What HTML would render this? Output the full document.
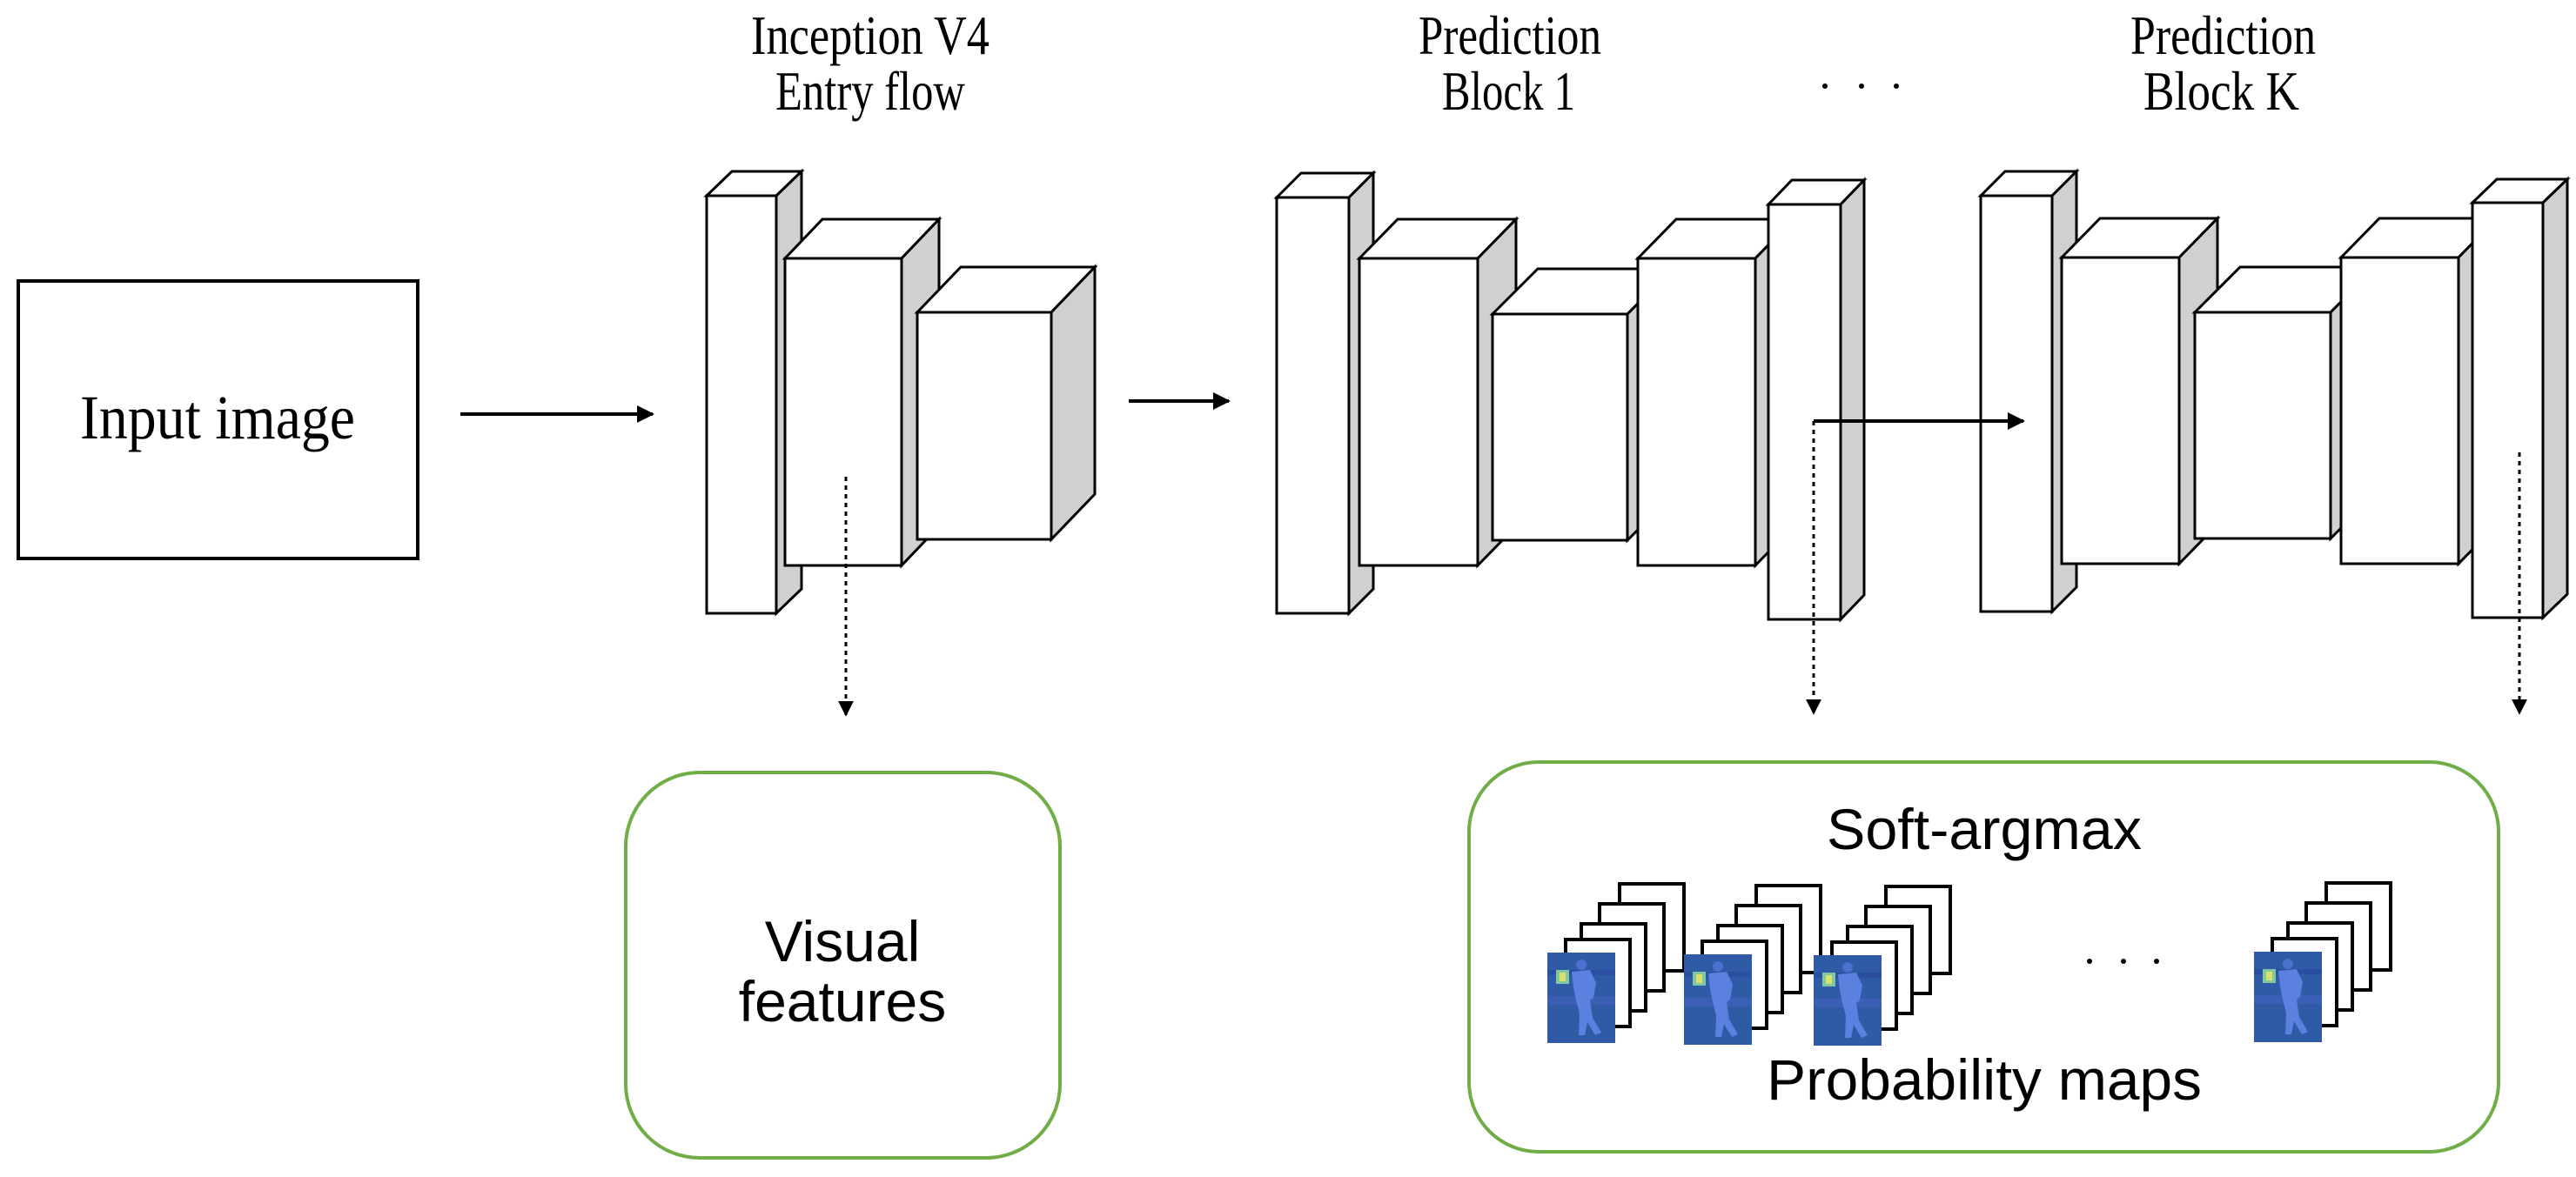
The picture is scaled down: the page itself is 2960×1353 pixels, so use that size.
<!DOCTYPE html>
<html><head><meta charset="utf-8"><style>html,body{margin:0;padding:0;background:#fff}svg{display:block}</style></head>
<body>
<svg width="2960" height="1353" viewBox="0 0 2960 1353" xmlns="http://www.w3.org/2000/svg">
<defs>
<marker id="ah" viewBox="0 0 10 10" refX="9" refY="5" markerWidth="5" markerHeight="5" orient="auto" markerUnits="strokeWidth"><path d="M0,0 L10,5 L0,10 z" fill="#000"/></marker>
<marker id="ah2" viewBox="0 0 10 10" refX="9" refY="5" markerWidth="6" markerHeight="6" orient="auto" markerUnits="strokeWidth"><path d="M0,0 L10,5 L0,10 z" fill="#000"/></marker>
<g id="blueimg">
<rect x="0" y="0" width="78" height="104" fill="#2f5aa6"/>
<rect x="0" y="20" width="78" height="6" fill="#2a4fa0"/>
<rect x="0" y="50" width="78" height="10" fill="#3a5fb5"/>
<circle cx="39" cy="14" r="6" fill="#4a70d0"/>
<path d="M28,22 L49,20 L56,35 L53,52 L49,55 L52,75 L62,92 L55,95 L46,80 L43,95 L36,95 L37,70 L33,55 L30,40 z" fill="#5a80e0"/>
<rect x="10" y="20" width="15" height="16" fill="#7fc8a0"/>
<rect x="14" y="23" width="7" height="10" fill="#d8e070"/>
</g>
<g id="frames">
<rect x="83" y="-79" width="74" height="100" fill="#fff" stroke="#000" stroke-width="4"/>
<rect x="60" y="-56" width="74" height="100" fill="#fff" stroke="#000" stroke-width="4"/>
<rect x="39" y="-33" width="74" height="100" fill="#fff" stroke="#000" stroke-width="4"/>
<rect x="21" y="-15" width="74" height="100" fill="#fff" stroke="#000" stroke-width="4"/>
<use href="#blueimg"/>
</g>
</defs>

<g font-family="Liberation Serif, serif" fill="#000">
<text x="863" y="62" font-size="64" textLength="274" lengthAdjust="spacingAndGlyphs">Inception V4</text>
<text x="891" y="126" font-size="64" textLength="218" lengthAdjust="spacingAndGlyphs">Entry flow</text>
<text x="1630" y="62" font-size="64" textLength="210" lengthAdjust="spacingAndGlyphs">Prediction</text>
<text x="1657" y="126" font-size="64" textLength="153" lengthAdjust="spacingAndGlyphs">Block 1</text>
<text x="2448" y="62" font-size="64" textLength="213" lengthAdjust="spacingAndGlyphs">Prediction</text>
<text x="2463" y="126" font-size="64" textLength="179" lengthAdjust="spacingAndGlyphs">Block K</text>
</g>
<circle cx="2097" cy="99" r="3" fill="#000"/><circle cx="2139" cy="99" r="3" fill="#000"/><circle cx="2179" cy="99" r="3" fill="#000"/>

<rect x="21" y="323" width="459" height="319" fill="#fff" stroke="#000" stroke-width="4"/>
<text x="92" y="504" font-family="Liberation Serif, serif" font-size="72" textLength="316" lengthAdjust="spacingAndGlyphs">Input image</text>

<line x1="529" y1="476" x2="750" y2="476" stroke="#000" stroke-width="4" marker-end="url(#ah)"/>
<line x1="1297" y1="461" x2="1412" y2="461" stroke="#000" stroke-width="4" marker-end="url(#ah)"/>

<g stroke="#000" stroke-width="3" stroke-linejoin="miter">
<path d="M812,225 L841,197 L921,197 L892,225 Z" fill="#fff"/><path d="M892,225 L921,197 L921,677 L892,705 Z" fill="#d0d0d0"/><rect x="812" y="225" width="80" height="480" fill="#fff"/>
<path d="M902,297 L945,252 L1079,252 L1036,297 Z" fill="#fff"/><path d="M1036,297 L1079,252 L1079,605 L1036,650 Z" fill="#d0d0d0"/><rect x="902" y="297" width="134" height="353" fill="#fff"/>
<path d="M1054,359 L1104,307 L1258,307 L1208,359 Z" fill="#fff"/><path d="M1208,359 L1258,307 L1258,568 L1208,620 Z" fill="#d0d0d0"/><rect x="1054" y="359" width="154" height="261" fill="#fff"/>
<path d="M1467,227 L1495,199 L1578,199 L1550,227 Z" fill="#fff"/><path d="M1550,227 L1578,199 L1578,677 L1550,705 Z" fill="#d0d0d0"/><rect x="1467" y="227" width="83" height="478" fill="#fff"/>
<path d="M1562,297 L1606,252 L1742,252 L1698,297 Z" fill="#fff"/><path d="M1698,297 L1742,252 L1742,605 L1698,650 Z" fill="#d0d0d0"/><rect x="1562" y="297" width="136" height="353" fill="#fff"/>
<path d="M1715,361 L1767,309 L1922,309 L1870,361 Z" fill="#fff"/><path d="M1870,361 L1922,309 L1922,569 L1870,621 Z" fill="#d0d0d0"/><rect x="1715" y="361" width="155" height="260" fill="#fff"/>
<path d="M1882,297 L1926,252 L2061,252 L2017,297 Z" fill="#fff"/><path d="M2017,297 L2061,252 L2061,605 L2017,650 Z" fill="#d0d0d0"/><rect x="1882" y="297" width="135" height="353" fill="#fff"/>
<path d="M2032,235 L2059,207 L2142,207 L2115,235 Z" fill="#fff"/><path d="M2115,235 L2142,207 L2142,684 L2115,712 Z" fill="#d0d0d0"/><rect x="2032" y="235" width="83" height="477" fill="#fff"/>
<path d="M2276,225 L2304,197 L2386,197 L2358,225 Z" fill="#fff"/><path d="M2358,225 L2386,197 L2386,675 L2358,703 Z" fill="#d0d0d0"/><rect x="2276" y="225" width="82" height="478" fill="#fff"/>
<path d="M2369,296 L2413,251 L2548,251 L2504,296 Z" fill="#fff"/><path d="M2504,296 L2548,251 L2548,603 L2504,648 Z" fill="#d0d0d0"/><rect x="2369" y="296" width="135" height="352" fill="#fff"/>
<path d="M2522,359 L2574,307 L2730,307 L2678,359 Z" fill="#fff"/><path d="M2678,359 L2730,307 L2730,567 L2678,619 Z" fill="#d0d0d0"/><rect x="2522" y="359" width="156" height="260" fill="#fff"/>
<path d="M2690,296 L2734,251 L2869,251 L2825,296 Z" fill="#fff"/><path d="M2825,296 L2869,251 L2869,603 L2825,648 Z" fill="#d0d0d0"/><rect x="2690" y="296" width="135" height="352" fill="#fff"/>
<path d="M2841,233 L2869,206 L2950,206 L2922,233 Z" fill="#fff"/><path d="M2922,233 L2950,206 L2950,683 L2922,710 Z" fill="#d0d0d0"/><rect x="2841" y="233" width="81" height="477" fill="#fff"/>
</g>

<line x1="2084" y1="484" x2="2325" y2="484" stroke="#000" stroke-width="4" marker-end="url(#ah)"/>
<line x1="972" y1="548" x2="972" y2="822" stroke="#000" stroke-width="3" stroke-dasharray="5,5" marker-end="url(#ah2)"/>
<line x1="2084" y1="484" x2="2084" y2="820" stroke="#000" stroke-width="3" stroke-dasharray="5,5" marker-end="url(#ah2)"/>
<line x1="2895" y1="520" x2="2895" y2="820" stroke="#000" stroke-width="3" stroke-dasharray="5,5" marker-end="url(#ah2)"/>

<rect x="719" y="888" width="499" height="443" rx="85" ry="85" fill="#fff" stroke="#70ad47" stroke-width="4"/>
<rect x="1688" y="876" width="1183" height="448" rx="80" ry="80" fill="#fff" stroke="#70ad47" stroke-width="4"/>

<g font-family="Liberation Sans, sans-serif" font-size="66" fill="#000" text-anchor="middle">
<text x="968" y="1105">Visual</text>
<text x="968" y="1174">features</text>
</g>
<text x="2099" y="976" font-family="Liberation Sans, sans-serif" font-size="66" textLength="362" lengthAdjust="spacingAndGlyphs">Soft-argmax</text>
<text x="2030" y="1264" font-family="Liberation Sans, sans-serif" font-size="66" textLength="500" lengthAdjust="spacingAndGlyphs">Probability maps</text>

<use href="#frames" x="1778" y="1095"/>
<use href="#frames" x="1935" y="1097"/>
<use href="#frames" x="2084" y="1098"/>
<use href="#frames" x="2590" y="1094"/>
<circle cx="2401" cy="1105" r="3" fill="#000"/><circle cx="2440" cy="1105" r="3" fill="#000"/><circle cx="2478" cy="1105" r="3" fill="#000"/>
</svg>
</body></html>
